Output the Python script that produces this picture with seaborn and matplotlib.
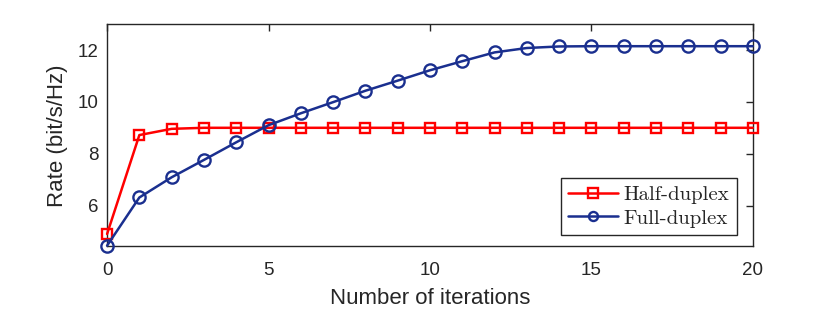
import numpy as np
import pandas as pd
import matplotlib
matplotlib.use('Agg')
import matplotlib.pyplot as plt
import seaborn as sns

iterations = list(range(0, 21))
half_duplex = [4.90, 8.72, 8.96, 9.00, 9.00, 9.00, 9.00, 9.00, 9.00, 9.00, 9.00,
               9.00, 9.00, 9.00, 9.00, 9.00, 9.00, 9.00, 9.00, 9.00, 9.00]
full_duplex = [4.45, 6.31, 7.09, 7.76, 8.44, 9.10, 9.56, 9.99, 10.43, 10.82, 11.22,
               11.57, 11.91, 12.08, 12.14, 12.15, 12.15, 12.15, 12.15, 12.15, 12.15]
series_names = ['Half-duplex', 'Full-duplex']

df = pd.concat([
    pd.DataFrame({'iter': iterations, 'rate': half_duplex, 'scheme': series_names[0]}),
    pd.DataFrame({'iter': iterations, 'rate': full_duplex, 'scheme': series_names[1]}),
])

sns.set_style('white')
plt.rcParams['font.family'] = ['Liberation Sans', 'DejaVu Sans']

fig = plt.figure(figsize=(8.3, 3.1), dpi=100)
ax = fig.add_axes([0.129, 0.205, 0.778, 0.717])

palette = {'Half-duplex': '#ff0000', 'Full-duplex': '#1a2f8f'}
markers = {'Half-duplex': 's', 'Full-duplex': 'o'}
sns.lineplot(data=df, x='iter', y='rate', hue='scheme', style='scheme',
             palette=palette, markers=markers, dashes=False, ax=ax,
             linewidth=1.8)
# hollow markers like the original, drawn over the axes edge
sizes = {'Half-duplex': 6.5, 'Full-duplex': 8.8}
for line, name in zip(ax.lines, series_names):
    c = line.get_color()
    line.set_markeredgecolor(c)
    line.set_markerfacecolor('none')
    line.set_markeredgewidth(1.7)
    line.set_markersize(sizes[name])
    line.set_clip_on(False)
    line.set_zorder(5)

ax.set_xlim(0, 20)
ax.set_ylim(4.42, 13)
ax.set_xticks([0, 5, 10, 15, 20])
ax.set_yticks([6, 8, 10, 12])
ax.tick_params(direction='in', length=5, width=1, top=True, right=True,
               labelsize=13.5, colors='#262626')
ax.tick_params(axis='x', pad=11)
ax.tick_params(axis='y', pad=6)
for s in ax.spines.values():
    s.set_color('#262626')
    s.set_linewidth(1)
ax.set_xlabel('Number of iterations', fontsize=16, color='#262626', labelpad=7)
ax.set_ylabel('Rate (bit/s/Hz)', fontsize=16, color='#262626', labelpad=7)

handles, labels = ax.get_legend_handles_labels()
for h in handles:
    h.set_markerfacecolor('none')
    h.set_markeredgecolor(h.get_color())
    h.set_markeredgewidth(1.7)
    h.set_markersize(6.5)
    h.set_linewidth(1.8)
ax.legend(handles, labels, loc='lower right', bbox_to_anchor=(0.975, 0.052),
          prop={'family': 'cmr10', 'size': 15}, fancybox=False, framealpha=1,
          edgecolor='#262626', handlelength=2.4, borderpad=0.35, labelspacing=0.25,
          handletextpad=0.25, borderaxespad=0)

fig.savefig('out.png', dpi=100)
